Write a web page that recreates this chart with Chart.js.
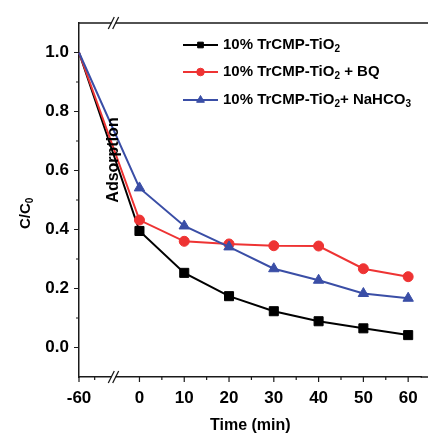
<!DOCTYPE html>
<html>
<head>
<meta charset="utf-8">
<script src="https://cdn.jsdelivr.net/npm/chart.js@4.4.0/dist/chart.umd.min.js"></script>
<style>
    html, body { margin: 0; padding: 0; background: #fff; }
    #wrap { width: 429px; height: 435px; }
</style>
</head>
<body>
<div id="wrap"><canvas id="chart" width="429" height="435"></canvas></div>
<script>
// Sampling times (min); -60 sits before the axis break
const times = [-60, 0, 10, 20, 30, 40, 50, 60];

// C/C0 for each sample
const plainValues = [1.0, 0.395, 0.253, 0.174, 0.123, 0.089, 0.065, 0.042];
const bqValues = [1.0, 0.432, 0.360, 0.351, 0.345, 0.344, 0.267, 0.240];
const nahco3Values = [1.0, 0.541, 0.412, 0.341, 0.267, 0.228, 0.183, 0.167];

const seriesLabels = [
    '10% TrCMP-TiO_{2}',
    '10% TrCMP-TiO_{2} + BQ',
    '10% TrCMP-TiO_{2}+ NaHCO_{3}'
];

const xTickLabels = [-60, 0, 10, 20, 30, 40, 50, 60];
const xMinorTicks = [5, 15, 25, 35, 45, 55];
const yTickLabels = [0.0, 0.2, 0.4, 0.6, 0.8, 1.0];
const yMinorTicks = [0.1, 0.3, 0.5, 0.7, 0.9];

// The axis is broken between -60 and 0, so -60 is drawn just left of 0
const BREAK_START = -13.5;
const BREAK_MARK = -5.8;
const PRE_BREAK_MINOR = -10;

function axisX(t) {
    return t < 0 ? BREAK_START : t;
}

function toPoints(values) {
    return times.map((t, i) => ({ x: axisX(t), y: values[i] }));
}

const FONT = '"Liberation Sans", Arial, Helvetica, sans-serif';
const AXIS_COLOR = '#1a1a1a';

// Draws text with _{..} parts as subscripts, returns end x
function drawRichText(ctx, text, x, y, size) {
    const parts = text.split(/(_\{[^}]*\})/).filter(p => p.length);
    parts.forEach(part => {
        if (part.startsWith('_{')) {
            const sub = part.slice(2, -1);
            ctx.font = 'bold ' + Math.round(size * 0.66) + 'px ' + FONT;
            ctx.fillText(sub, x, y + size * 0.3);
            x += ctx.measureText(sub).width;
        } else {
            ctx.font = 'bold ' + size + 'px ' + FONT;
            ctx.fillText(part, x, y);
            x += ctx.measureText(part).width;
        }
    });
    return x;
}

const decorations = {
    id: 'decorations',
    afterDraw(chart) {
        const ctx = chart.ctx;
        const area = chart.chartArea;
        const xs = chart.scales.x;
        const ys = chart.scales.y;
        const frameRight = chart.width - 1;
        ctx.save();
        ctx.strokeStyle = AXIS_COLOR;
        ctx.fillStyle = '#000';

        // top frame line and bottom axis run to the picture edge
        ctx.lineWidth = 1.5;
        ctx.beginPath();
        ctx.moveTo(area.left, area.top);
        ctx.lineTo(frameRight, area.top);
        ctx.moveTo(area.right - 1, area.bottom);
        ctx.lineTo(frameRight, area.bottom);
        ctx.stroke();

        // x ticks (outward)
        ctx.lineWidth = 1.2;
        ctx.beginPath();
        xTickLabels.forEach(t => {
            const px = xs.getPixelForValue(axisX(t));
            ctx.moveTo(px, area.bottom);
            ctx.lineTo(px, area.bottom + 5);
        });
        [PRE_BREAK_MINOR].concat(xMinorTicks).forEach(v => {
            const px = xs.getPixelForValue(v);
            ctx.moveTo(px, area.bottom);
            ctx.lineTo(px, area.bottom + 3);
        });
        // y ticks (outward)
        yTickLabels.forEach(v => {
            const py = ys.getPixelForValue(v);
            ctx.moveTo(area.left, py);
            ctx.lineTo(area.left - 5, py);
        });
        yMinorTicks.forEach(v => {
            const py = ys.getPixelForValue(v);
            ctx.moveTo(area.left, py);
            ctx.lineTo(area.left - 3, py);
        });
        ctx.stroke();

        // axis break marks
        const bx = xs.getPixelForValue(BREAK_MARK);
        [area.top, area.bottom].forEach(by => {
            ctx.fillStyle = '#fff';
            ctx.fillRect(bx - 2, by - 1.5, 4, 3);
            ctx.beginPath();
            ctx.lineWidth = 1.3;
            [-2.2, 2.2].forEach(off => {
                ctx.moveTo(bx + off - 3, by + 6);
                ctx.lineTo(bx + off + 3, by - 6);
            });
            ctx.stroke();
        });

        ctx.fillStyle = '#000';
        ctx.textBaseline = 'middle';

        // "Adsorption" note
        ctx.save();
        ctx.translate(bx, 160);
        ctx.rotate(-Math.PI / 2);
        ctx.textAlign = 'center';
        ctx.font = 'bold 16px ' + FONT;
        ctx.fillText('Adsorption', 0, 0);
        ctx.restore();

        // y axis title C/C0
        ctx.save();
        ctx.translate(26, 212);
        ctx.rotate(-Math.PI / 2);
        ctx.textAlign = 'left';
        ctx.font = 'bold 15px ' + FONT;
        const yTitle = 'C/C_{0}';
        const probe = yTitle.replace(/_\{([^}]*)\}/g, '$1');
        const w = ctx.measureText(probe).width;
        drawRichText(ctx, yTitle, -w / 2, 0, 15);
        ctx.restore();

        // legend
        const datasets = chart.data.datasets;
        const rowY = [45, 72, 100];
        datasets.forEach((ds, i) => {
            const y = rowY[i];
            ctx.strokeStyle = ds.borderColor;
            ctx.fillStyle = ds.backgroundColor;
            ctx.lineWidth = 2;
            ctx.beginPath();
            ctx.moveTo(183, y);
            ctx.lineTo(218, y);
            ctx.stroke();
            ctx.lineWidth = 1;
            Chart.helpers.drawPoint(ctx, {
                pointStyle: ds.pointStyle,
                radius: ds.legendRadius,
                borderWidth: 1
            }, 200.5, y);
            ctx.fillStyle = '#000';
            ctx.textAlign = 'left';
            drawRichText(ctx, seriesLabels[i], 223, y, 15);
        });
        ctx.restore();
    }
};

function makeDataset(values, color, style, radius, legendRadius, order) {
    // no marker on the pre-break starting point
    const radii = times.map(t => (t < 0 ? 0 : radius));
    return {
        data: toPoints(values),
        borderColor: color,
        backgroundColor: color,
        borderWidth: 2,
        pointStyle: style,
        pointRadius: radii,
        pointHoverRadius: radii,
        pointBorderWidth: 1,
        legendRadius: legendRadius,
        tension: 0,
        clip: false,
        order: order
    };
}

const canvas = document.getElementById('chart');
canvas.chart = new Chart(canvas.getContext('2d'), {
    type: 'line',
    data: {
        datasets: [
            makeDataset(plainValues, '#000000', 'rect', 6.4, 4, 2),
            makeDataset(bqValues, '#ee3333', 'circle', 5, 3.8, 1),
            makeDataset(nahco3Values, '#3a4ea6', 'triangle', 6, 4.5, 0)
        ]
    },
    options: {
        responsive: false,
        animation: false,
        devicePixelRatio: 1,
        layout: { padding: { top: 23, right: 1, left: 0, bottom: 0 } },
        plugins: {
            legend: { display: false },
            tooltip: { enabled: false }
        },
        scales: {
            x: {
                type: 'linear',
                min: BREAK_START,
                max: 63,
                afterBuildTicks: scale => {
                    scale.ticks = xTickLabels.map(t => ({ value: axisX(t) }));
                },
                afterFit: scale => { scale.height = 58; },
                grid: { display: false, drawTicks: false },
                border: { display: true, color: AXIS_COLOR, width: 1.5 },
                ticks: {
                    padding: 11,
                    maxRotation: 0,
                    autoSkip: false,
                    color: '#000',
                    font: { family: FONT, size: 17, weight: 'bold' },
                    callback: value => {
                        const idx = xTickLabels.findIndex(t => axisX(t) === value);
                        return idx >= 0 ? String(xTickLabels[idx]) : '';
                    }
                },
                title: {
                    display: true,
                    text: 'Time (min)',
                    color: '#000',
                    padding: { top: 0, bottom: 0 },
                    font: { family: FONT, size: 16, weight: 'bold' }
                }
            },
            y: {
                type: 'linear',
                min: -0.1,
                max: 1.1,
                afterBuildTicks: scale => {
                    scale.ticks = yTickLabels.map(v => ({ value: v }));
                },
                afterFit: scale => { scale.width = 79; },
                grid: { display: false, drawTicks: false },
                border: { display: true, color: AXIS_COLOR, width: 1.5 },
                ticks: {
                    padding: 10,
                    color: '#000',
                    font: { family: FONT, size: 17, weight: 'bold' },
                    callback: value => Number(value).toFixed(1)
                }
            }
        }
    },
    plugins: [decorations]
});
</script>
</body>
</html>
